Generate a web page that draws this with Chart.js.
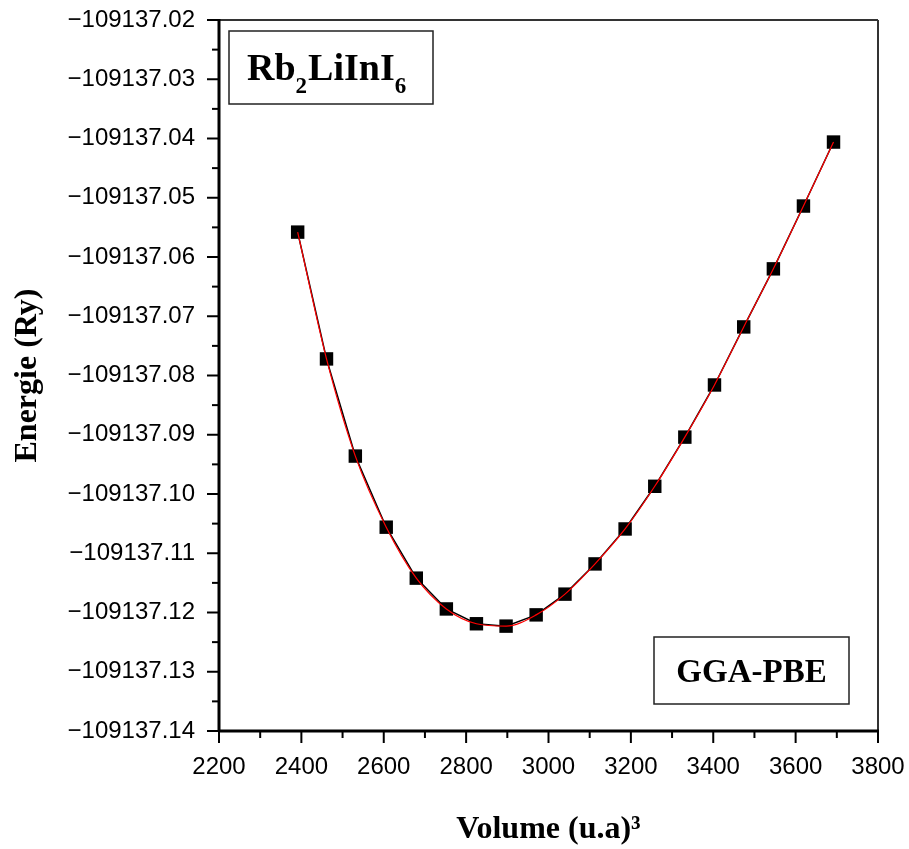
<!DOCTYPE html>
<html>
<head>
<meta charset="utf-8">
<script src="https://cdn.jsdelivr.net/npm/chart.js@4.4.1/dist/chart.umd.min.js"></script>
<style>
  html, body { margin: 0; padding: 0; background: #fff; }
  canvas { display: block; }
</style>
</head>
<body>
<canvas id="eosChart" width="909" height="849"></canvas>
<script>
// volumes (u.a)^3 and total energies (Ry)
const volumes = [2391, 2461, 2531, 2606, 2679, 2752, 2825, 2897, 2970, 3040,
                 3113, 3186, 3258, 3331, 3403, 3474, 3546, 3619, 3692];
const energies = [-109137.0558, -109137.0772, -109137.0936, -109137.1056, -109137.1142,
                  -109137.1194, -109137.1219, -109137.1223, -109137.1204, -109137.1169,
                  -109137.1118, -109137.1059, -109137.0987, -109137.0904, -109137.0816,
                  -109137.0718, -109137.0620, -109137.0514, -109137.0406];
const xTicks = [2200, 2400, 2600, 2800, 3000, 3200, 3400, 3600, 3800];
const yTicks = [-109137.14, -109137.13, -109137.12, -109137.11, -109137.10, -109137.09, -109137.08,
                -109137.07, -109137.06, -109137.05, -109137.04, -109137.03, -109137.02];

const points = volumes.map((v, i) => ({ x: v, y: energies[i] }));

const serif = '"Liberation Serif", "Times New Roman", serif';
const sans = '"Liberation Sans", Arial, sans-serif';

// box frame + major/minor ticks (Origin style)
const frameTicks = {
    id: 'frameTicks',
    afterDraw(chart) {
        const { ctx, chartArea: a, scales: { x, y } } = chart;
        const seg = (x1, y1, x2, y2) => { ctx.beginPath(); ctx.moveTo(x1, y1); ctx.lineTo(x2, y2); ctx.stroke(); };
        ctx.save();
        ctx.strokeStyle = '#000';
        ctx.lineWidth = 2;
        const xs = x.ticks.map(t => t.value);
        xs.forEach((v, i) => {
            const p = x.getPixelForValue(v);
            seg(p, a.bottom, p, a.bottom + 12);
            if (i < xs.length - 1) {
                const m = x.getPixelForValue((v + xs[i + 1]) / 2);
                seg(m, a.bottom, m, a.bottom + 7);
            }
        });
        const ys = y.ticks.map(t => t.value);
        ys.forEach((v, i) => {
            const p = y.getPixelForValue(v);
            seg(a.left, p, a.left - 12, p);
            if (i < ys.length - 1) {
                const m = y.getPixelForValue((v + ys[i + 1]) / 2);
                seg(a.left, m, a.left - 7, m);
            }
        });
        // top / right thin
        ctx.strokeStyle = '#333';
        ctx.lineWidth = 2;
        seg(a.left, a.top, a.right, a.top);
        seg(a.right, a.top, a.right, a.bottom);
        // left / bottom thick
        ctx.strokeStyle = '#000';
        ctx.lineWidth = 3;
        seg(a.left, a.top - 1, a.left, a.bottom + 1);
        seg(a.left - 1, a.bottom, a.right + 1, a.bottom);
        ctx.restore();
    }
};

// the two labelled boxes
const labelBoxes = {
    id: 'labelBoxes',
    afterDraw(chart) {
        const { ctx, chartArea: a } = chart;
        ctx.save();
        ctx.strokeStyle = '#222';
        ctx.lineWidth = 1.5;
        ctx.fillStyle = '#000';
        ctx.textBaseline = 'alphabetic';

        // Rb2LiInI6
        let bx = a.left + 10, by = a.top + 11;
        ctx.strokeRect(bx, by, 204, 73);
        const parts = [['Rb', false], ['2', true], ['LiInI', false], ['6', true]];
        let tx = bx + 18;
        const base = by + 49;
        parts.forEach(([s, sub]) => {
            ctx.font = sub ? 'bold 23px ' + serif : 'bold 38px ' + serif;
            ctx.textAlign = 'left';
            ctx.fillText(s, tx, sub ? base + 13 : base);
            tx += ctx.measureText(s).width + (sub ? 1 : 0);
        });

        // GGA-PBE
        bx = a.right - 224; by = a.bottom - 94;
        ctx.strokeRect(bx, by, 195, 67);
        ctx.font = 'bold 33px ' + serif;
        ctx.textAlign = 'center';
        ctx.fillText('GGA-PBE', bx + 97.5, by + 45);
        ctx.restore();
    }
};

const ctx = document.getElementById('eosChart');

new Chart(ctx, {
    type: 'line',
    data: {
        datasets: [{
            label: 'fit',
            data: points,
            borderColor: '#ff0000',
            borderWidth: 1.2,
            pointRadius: 0,
            cubicInterpolationMode: 'monotone',
            fill: false
        },
        {
            label: 'E(V)',
            data: points,
            borderColor: '#000',
            backgroundColor: '#000',
            borderWidth: 1.5,
            pointStyle: 'rect',
            pointRadius: 9.5,
            pointBorderWidth: 0,
            tension: 0,
            fill: false
        }]
    },
    options: {
        responsive: false,
        animation: false,
        layout: { padding: { top: 20, right: 31, left: 0, bottom: 0 } },
        plugins: {
            legend: { display: false },
            tooltip: { enabled: false }
        },
        scales: {
            x: {
                type: 'linear',
                min: xTicks[0],
                max: xTicks[xTicks.length - 1],
                afterFit: s => { s.height = 118; s.paddingLeft = 0; s.paddingRight = 0; },
                afterBuildTicks: s => { s.ticks = xTicks.map(v => ({ value: v })); },
                grid: { display: false, drawTicks: false },
                border: { display: false },
                ticks: {
                    color: '#000',
                    padding: 22,
                    font: { family: sans, size: 24 },
                    maxRotation: 0,
                    callback: v => String(v)
                },
                title: {
                    display: true,
                    text: 'Volume (u.a)³',
                    color: '#000',
                    font: { family: serif, size: 32, weight: 'bold' },
                    padding: { top: 0, bottom: 0 }
                }
            },
            y: {
                min: yTicks[0],
                max: yTicks[yTicks.length - 1],
                afterFit: s => { s.width = 219; s.paddingTop = 0; s.paddingBottom = 0; },
                afterBuildTicks: s => { s.ticks = yTicks.map(v => ({ value: v })); },
                grid: { display: false, drawTicks: false },
                border: { display: false },
                ticks: {
                    color: '#000',
                    padding: 24,
                    font: { family: sans, size: 24 },
                    callback: v => v.toFixed(2).replace('-', '\u2212')
                },
                title: {
                    display: true,
                    text: 'Energie (Ry)',
                    color: '#000',
                    font: { family: serif, size: 32, weight: 'bold' },
                    padding: { top: 9, bottom: 0 }
                }
            }
        }
    },
    plugins: [frameTicks, labelBoxes]
});
</script>
</body>
</html>
